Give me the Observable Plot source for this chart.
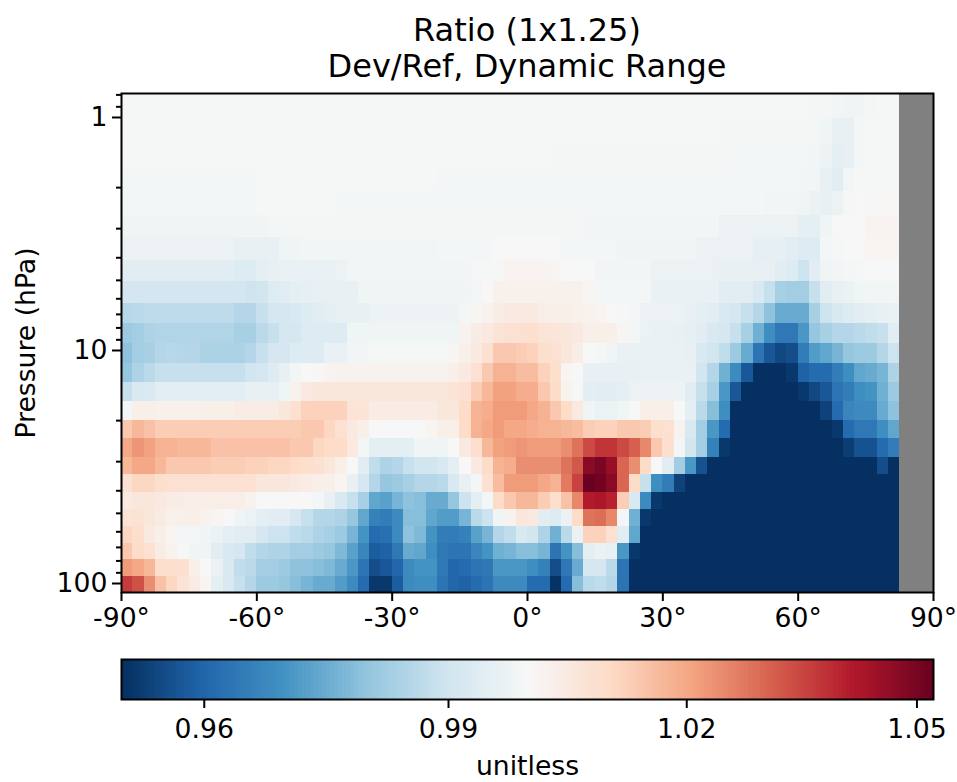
<!DOCTYPE html>
<html>
<head>
<meta charset="utf-8">
<script src="https://cdn.jsdelivr.net/npm/d3@7"></script>
<script src="https://cdn.jsdelivr.net/npm/@observablehq/plot@0.6"></script>
<style>
  html, body { margin: 0; padding: 0; background: #fff; }
  #page { position: relative; width: 957px; height: 782px; font-family: "DejaVu Sans", sans-serif; color: #000; overflow: hidden; }
  #title { position: absolute; left: 97px; width: 860px; top: 12px; text-align: center; font-size: 32px; line-height: 36px; }
  #main { position: absolute; left: 0; top: 0; }
  #bar { position: absolute; left: 0; top: 642px; }
  svg { display: block; overflow: visible; }
</style>
</head>
<body>
<div id="page">
  <div id="main"></div>
  <div id="bar"></div>
  <div id="title">Ratio (1x1.25)<br>Dev/Ref, Dynamic Range</div>
</div>
<script>
// Latitude columns are 2.5 degrees wide starting at -90; values are (ratio - 1) x 1000.
const latStart = -90, latStep = 2.5, latMissingFrom = 82.5;
const pressureEdges = [0.789,1.01,1.293,1.655,2.078,2.634,3.273,4.11,5.06,6.28,7.66,9.33,11.37,13.72,16.55,19.97,23.86,28.8,34.06,40.68,48.12,56.93,67.35,78.9,93.3,109.3];
const xTicks = [-90,-60,-30,0,30,60,90];
const yMajor = [1,10,100];
const yMinor = [0.8,0.9,2,3,4,5,6,7,8,9,20,30,40,50,60,70,80,90];
const barTicks = [0.959,0.98998,1.0202,1.0494];
const colorStops = [0.9485,0.9588,0.9691,0.9794,0.9897,0.9996,1,1.0103,1.0206,1.0309,1.0412,1.0515];
const colorRange = ["#053061","#2166ac","#4393c3","#92c5de","#d1e5f0","#f5f7f6","#f7f7f7","#fddbc7","#f4a582","#d6604d","#b2182b","#67001f"];

const r00 = [-.4,-.4,-.4,-.4,-.4,-.4,-.4,-.4,-.4,-.4, -.4,-.4,-.4,-.4,-.4,-.4,-.4,-.4,-.4,-.4, -.4,-.4,-.4,-.4,-.4,-.4,-.4,-.4,-.4,-.4, -.4,-.4,-.4,-.4,-.4,-.4,-.4,-.4,-.4,-.4, -.4,-.4,-.4,-.4,-.4,-.4,-.4,-.4,-.4,-.4, -.4,-.4,-.4,-.4,-.4,-.4,-.4,-.4,-.4,-.4, -.4,-.8,-.8,-1.5,-2,-2,-.7,-.5,-.5];
const r01 = [-.4,-.4,-.4,-.4,-.4,-.4,-.4,-.4,-.4,-.4, -.4,-.4,-.4,-.4,-.4,-.4,-.4,-.4,-.4,-.4, -.4,-.4,-.4,-.4,-.4,-.4,-.4,-.4,-.4,-.4, -.4,-.4,-.4,-.4,-.4,-.4,-.4,-.4,-.4,-.4, -.4,-.4,-.4,-.4,-.4,-.4,-.4,-.4,-.4,-.4, -.4,-.4,-.4,-.7,-.7,-.7,-.7,-.7,-.7,-.7, -.7,-1,-2,-4,-4,-1,-.5,-.5,-.5];
const r02 = [-.4,-.4,-.4,-.4,-.4,-.4,-.4,-.4,-.4,-.4, -.4,-.4,-.4,-.4,-.4,-.4,-.4,-.4,-.4,-.4, -.4,-.4,-.4,-.4,-.4,-.4,-.4,-.4,-.4,-.4, -.4,-.4,-.4,-.4,-.4,-.4,-.4,-.4,-.7,-.7, -.7,-.7,-.7,-.7,-.7,-.7,-.7,-.7,-.7,-.7, -.7,-.7,-.7,-.7,-1,-1,-1,-1,-1,-1, -1.2,-1.5,-2.5,-5,-4,-1,-.5,-.5,-.5];
const r03 = [-.9,-.9,-.9,-.9,-.9,-.9,-.9,-.9,-.9,-.9, -.9,-.9,-.5,-.5,-.5,-.5,-.5,-.5,-.5,-.5, -.5,-.5,-.5,-.5,-.5,-.5,-.5,-.5,-.9,-.9, -.9,-.9,-.9,-.9,-.9,-.9,-.9,-.9,-.9,-.9, -.9,-.9,-.9,-.9,-.9,-.9,-.9,-.9,-.9,-.9, -.9,-.9,-.9,-.9,-.9,-.9,-.9,-.9,-.9,-1, -1.5,-1.5,-4,-6,-1.5,-.5,-.4,-.4,-.4];
const r04 = [-1.1,-1.1,-1.1,-1.1,-1.1,-1.1,-1.1,-1.1,-1.1,-1.1, -1.1,-1.1,-.5,-.5,-.5,-.5,-.5,-.5,-.5,-1, -1,-1,-1,-1,-1,-1,-1,-1,-1,-1, -1,-1,-1,-1,-1,-1,-1,-1,-1,-1, -1,-1,-1,-1,-1,-1,-1,-1,-1,-1, -1.2,-1.2,-1.2,-1.2,-1.2,-1.2,-1.2,-1.6,-1.6,-1.6, -2,-3,-4,-3,-.5,0,.2,.5,.5];
const r05 = [-2,-2,-2,-2,-2,-2,-2,-2,-2,-2, -2,-1.8,-1.8,-1.2,-1.2,-.8,-.8,-.8,-.8,-.8, -.8,-.8,-.8,-.8,-.8,-.8,-.8,-.8,-.8,-.8, -.8,-.8,-.8,-.8,-.8,-.8,-.8,-.8,-.8,-.8, -.8,-1.5,-1.5,-1.5,-1.5,-1.5,-1.5,-1.5,-1.5,-1.5, -1.5,-1.5,-1.5,-3,-3,-3,-3,-3,-3,-3, -5,-5,-2,-.3,0,0,1.5,1.5,1.5];
const r06 = [-3,-3,-3,-3,-3,-3,-3,-3,-3,-3, -4,-4,-4,-4,-2,-2,-1.5,-1.5,-1.5,-1.5, -1.5,-1.5,-1.5,-1.5,-1.5,-1.5,-1.5,-1.5,-1,-1, -1,-1,-1,-.3,-.3,-.3,-.3,-.3,-.3,-1, -1,-1,-1,-1,-2,-2,-2,-2,-2,-2, -2,-3,-3,-3,-3,-3,-4.5,-4.5,-4.5,-6, -7,-7,-1,-.5,-.3,0,1.2,1.2,1.2];
const r07 = [-6,-6,-6,-6,-6,-6,-6,-6,-6,-6, -7,-7,-5,-4,-3.5,-3.5,-3.5,-3.5,-3.5,-3, -1.5,-1.5,-1.5,-1.5,-1.5,-1.5,-1.5,-1.5,-1.5,-1.5, -1.5,-.5,-.5,-.5,1.5,1.5,1.5,1.5,1,0, -.2,-.3,-1.5,-1.5,-1.5,-1.5,-1.5,-3,-3,-3, -3,-3,-3,-4,-4,-4,-4,-4,-6,-7, -11,-6,-2,-1.5,-1,-.5,-.3,-.3,-.3];
const r08 = [-9.5,-9.5,-9.5,-9.5,-9.5,-9.5,-9.5,-9.5,-9.5,-9.5, -9.5,-10.5,-10,-7,-6,-5,-4.5,-4,-4,-4, -4,-2,-2,-2,-2,-2,-2,-2,-2,-2, -2,-1,0,2.5,2.5,2.5,2.5,2.5,2.5,2.5, 2.5,1,-1,-1,-1,-1,-1,-3.5,-3.5,-3.5, -3.5,-3.5,-3.5,-6,-6,-6,-8,-12,-17,-18, -18,-12,-6,-4,-3,-2,-1.5,-1.5,-1.5];
const r09 = [-14.5,-14,-13.5,-13.5,-13.5,-13.5,-13.5,-13.5,-13.5,-13.5, -15,-15,-12,-9,-9,-8,-7,-6,-5,-4, -4,-4,-2.5,-2.5,-2.5,-2.5,-2.5,-2.5,-2.5,-2.5, -1,1,2,4,5,5,5,3.5,3,3, 2.5,2,1.5,0,-.5,-1,-3,-3,-3,-3, -4,-5,-6,-8,-9,-12,-15,-21,-26,-26, -26,-17,-11,-8,-7,-6,-5,-4,-3.5];
const r10 = [-19,-18,-16,-15.5,-15.5,-15.5,-15.5,-15.5,-15.5,-15.5, -17,-17,-14,-12,-9,-9,-7,-7,-7,-7, -2,-2,-2,-2,-2,-2,-2,-2,-2,-2, 2,4,5,7,8,8,9,7,6.5,6, 5,3,3,3,1,-1,-3,-3.5,-3.5,-4, -4.5,-6,-8,-9,-12,-17,-25,-32,-37,-37, -30,-20,-17,-15,-15,-14,-13,-12,-6];
const r11 = [-21,-18,-17,-15,-14.5,-15,-15,-16.5,-16.5,-16.5, -16.5,-15,-12,-9,-9,-7,-7,-7,-3.5,-3.5, -1.5,-1.5,-.5,-.5,-.5,-.5,-.5,-.5,-.5,1, 3,5,8,14,14,13,12,9,8,6, 3.5,-.2,-.4,-2,-3.5,-3.5,-3.5,-3.5,-3.5,-3.5, -4,-8,-10,-13,-19,-26,-38,-44,-47,-46, -36,-29,-27,-24,-20,-19,-19,-15,-11];
const r12 = [-20,-16,-14,-12,-12,-12,-12,-12,-12,-12, -12,-10,-9,-7,-4,-1.5,0,.5,1.5,2, 2,2,2,2,2,2,2,2,2,3, 5,8,14,18,18,16,16,12,9,1, -.3,-4,-4,-4,-4,-4,-3.5,-3.5,-3.5,-3.5, -3.5,-10,-15,-25,-33,-44,-52,-52,-52,-50, -42,-40,-40,-36,-32,-27,-26,-24,-16];
const r13 = [-12,-8,-7.5,-5.5,-5.5,-5.5,-5.5,-5.5,-5.5,-5.5, -5.5,-4,-4,-4,-2,2,5,6,6,6, 6,6,6,6,6,6,6,6,6,7, 8,13,17,21,21,19,19,14,10,2, -.5,-5.5,-6,-6,-5,-3,-2.5,-2.5,-2.5,-2.5, -6,-12,-17,-30,-44,-52,-52,-52,-52,-52, -50,-47,-44,-38,-36,-32,-31,-25,-19];
const r14 = [-1,3,3,2.5,2.5,2.5,2.5,3,3,3, 4,4,4,4,6,8,12,12,12,12, 7,7,4,4,4,4,4,4,6,6, 10,18,19,22,22,22,20,18,14,10, 5,-2,-3,-3,-2,0,3,3,3,0, -5,-14,-22,-32,-52,-52,-52,-52,-52,-52, -52,-52,-48,-40,-34,-33,-33,-26,-21];
const r15 = [14,17,15,13,13,13,13,13,13,13, 13,13,13,13,13,13,14,14,11,8, 5,3,0,0,0,0,0,1,3,3, 10,18,20,22,20,20,19,18,18,17, 16,13,12,12,14,14,13,9,8,2, -8,-18,-30,-40,-52,-52,-52,-52,-52,-52, -52,-52,-52,-50,-40,-37,-37,-32,-27];
const r16 = [20,23,21,18,18,17,17,17,15,15, 15,15,15,15,15,14,14,11,10,10, 5,-1,-5,-5,-5,-5,-2,-2,-2,0, 5,9,17,21,22,23,22,22,22,24, 28,34,37,37,34,31,25,14,9,-1, -10,-18,-35,-50,-52,-52,-52,-52,-52,-52, -52,-52,-52,-52,-49,-45,-45,-40,-36];
const r17 = [17,20,20,17,14,14,14,14,13,13, 13,12,12,11,11,10,9,8,6,3, 0,-6,-13,-16,-15,-12,-10,-10,-8,-5, 0,5,10,18,19,24,24,24,24,28, 32,47,49,45,30,24,10,0,-6,-18, -30,-45,-52,-52,-52,-52,-52,-52,-52,-52, -52,-52,-52,-52,-52,-52,-52,-46,-52];
const r18 = [8,11,11,9,8,8,8,8,8,8, 8,8,6,6,6,5,4,3,3,1, -4,-9,-15,-20,-19,-17,-15,-15,-14,-8, -4,-1,8,16,22,22,22,20,18,27, 35,51,50,47,30,10,-12,-32,-36,-48, -52,-52,-52,-52,-52,-52,-52,-52,-52,-52, -52,-52,-52,-52,-52,-52,-52,-52,-52];
const r19 = [4.5,6,6,5,4,3.5,3.5,3.5,3.5,3.5, 3.5,2,0,0,0,0,0,-1,-4,-8, -12,-17,-27,-28,-24,-21,-22,-26,-26,-20, -11,-5,-1,10,14,17,17,13,9,15, 25,41,42,40,13,-8,-33,-50,-52,-52, -52,-52,-52,-52,-52,-52,-52,-52,-52,-52, -52,-52,-52,-52,-52,-52,-52,-52,-52];
const r20 = [7,7.5,6,4.5,2.5,3,3,2,1,0, -2,-3,-5,-6,-6,-9,-12,-15,-15,-16, -20,-27,-35,-36,-33,-22,-22,-27,-29,-29, -24,-14,-11,-2,2,6,5,-6,-7,-3, 10,28,29,25,-1,-25,-50,-52,-52,-52, -52,-52,-52,-52,-52,-52,-52,-52,-52,-52, -52,-52,-52,-52,-52,-52,-52,-52,-52];
const r21 = [11,9,5,3,1,-1,-1,-2,-3,-5, -6,-6,-9,-11,-11,-13,-14,-16,-17,-19, -24,-31,-40,-39,-33,-21,-23,-31,-36,-36, -35,-28,-24,-15,-13,-8,-10,-16,-25,-14, -3,12,12,8,-6,-27,-52,-52,-52,-52, -52,-52,-52,-52,-52,-52,-52,-52,-52,-52, -52,-52,-52,-52,-52,-52,-52,-52,-52];
const r22 = [14,10,8,4,2,-.5,-2,-2,-6,-8, -9,-13,-15,-16,-16,-18,-18,-19,-20,-23, -28,-34,-43,-42,-37,-26,-27,-32,-37,-38, -38,-34,-31,-25,-24,-22,-22,-24,-38,-31, -22,-5,-3,-4,-30,-50,-52,-52,-52,-52, -52,-52,-52,-52,-52,-52,-52,-52,-52,-52, -52,-52,-52,-52,-52,-52,-52,-52,-52];
const r23 = [22,20,17,9,9,8,3,0,-3,-8, -13,-14,-18,-18,-19,-21,-21,-22,-23,-26, -30,-38,-46,-44,-41,-33,-31,-31,-37,-41, -40,-38,-37,-30,-30,-30,-32,-35,-46,-37, -26,-9,-9,-14,-38,-52,-52,-52,-52,-52, -52,-52,-52,-52,-52,-52,-52,-52,-52,-52, -52,-52,-52,-52,-52,-52,-52,-52,-52];
const r24 = [36,33,24,15,11,7,4,1,-5,-8, -12,-15,-19,-19,-20,-22,-24,-26,-26,-29, -33,-40,-50,-50,-43,-33,-32,-32,-38,-41, -42,-40,-38,-33,-33,-33,-40,-40,-51,-40, -22,-14,-13,-15,-38,-52,-52,-52,-52,-52, -52,-52,-52,-52,-52,-52,-52,-52,-52,-52, -52,-52,-52,-52,-52,-52,-52,-52,-52];
const rows = [r00,r01,r02,r03,r04,r05,r06,r07,r08,r09,r10,r11,r12,r13,r14,r15,r16,r17,r18,r19,r20,r21,r22,r23,r24];

const cells = rows.flatMap((row, j) => row.map((d, i) => ({
  x1: latStart + i * latStep, x2: latStart + (i + 1) * latStep,
  y1: pressureEdges[j], y2: pressureEdges[j + 1], v: 1 + d / 1000
})));
const missing = [{x1: latMissingFrom, x2: 90, y1: pressureEdges[0], y2: pressureEdges[pressureEdges.length - 1]}];
const colorOpts = {type: "linear", domain: colorStops, range: colorRange, clamp: true};
const baseStyle = {fontFamily: "'DejaVu Sans', sans-serif", fontSize: "26.67px", color: "#000", background: "transparent", overflow: "visible"};

const main = Plot.plot({
  width: 957, height: 642,
  marginLeft: 121, marginRight: 24, marginTop: 93, marginBottom: 50,
  style: baseStyle,
  x: {domain: [-90, 90]},
  y: {type: "log", domain: [109.3, 0.789]},
  color: colorOpts,
  marks: [
    Plot.rect(cells, {x1: "x1", x2: "x2", y1: "y1", y2: "y2", fill: "v", shapeRendering: "crispEdges"}),
    Plot.rect(missing, {x1: "x1", x2: "x2", y1: "y1", y2: "y2", fill: "#808080", shapeRendering: "crispEdges"}),
    Plot.frame({stroke: "#000", strokeWidth: 2}),
    Plot.axisX({ticks: xTicks, tickSize: 9, tickPadding: 7, strokeWidth: 2, tickFormat: d => d + "°", label: null}),
    Plot.axisY({ticks: yMinor, tickSize: 5, tickFormat: () => "", strokeWidth: 2, label: null}),
    Plot.axisY({ticks: yMajor, tickSize: 9, tickPadding: 5, strokeWidth: 2, tickFormat: d => String(d),
      label: "Pressure (hPa)", labelAnchor: "center", labelArrow: "none", labelOffset: 105})
  ]
});
document.getElementById("main").appendChild(main);

const barStep = 0.0005;
const barValues = d3.range(0.9485, 1.0515 - barStep / 2, barStep);
const bar = Plot.plot({
  width: 957, height: 140,
  marginLeft: 121, marginRight: 24, marginTop: 17, marginBottom: 83,
  style: baseStyle,
  x: {domain: [0.9485, 1.0515]},
  color: colorOpts,
  marks: [
    Plot.rect(barValues, {x1: d => d, x2: d => d + barStep, fill: d => d, shapeRendering: "crispEdges"}),
    Plot.frame({stroke: "#000", strokeWidth: 2}),
    Plot.axisX({ticks: barTicks, tickSize: 9, tickPadding: 11, strokeWidth: 2, tickFormat: d => d.toFixed(2),
      label: "unitless", labelAnchor: "center", labelArrow: "none", labelOffset: 75})
  ]
});
document.getElementById("bar").appendChild(bar);
</script>
</body>
</html>
